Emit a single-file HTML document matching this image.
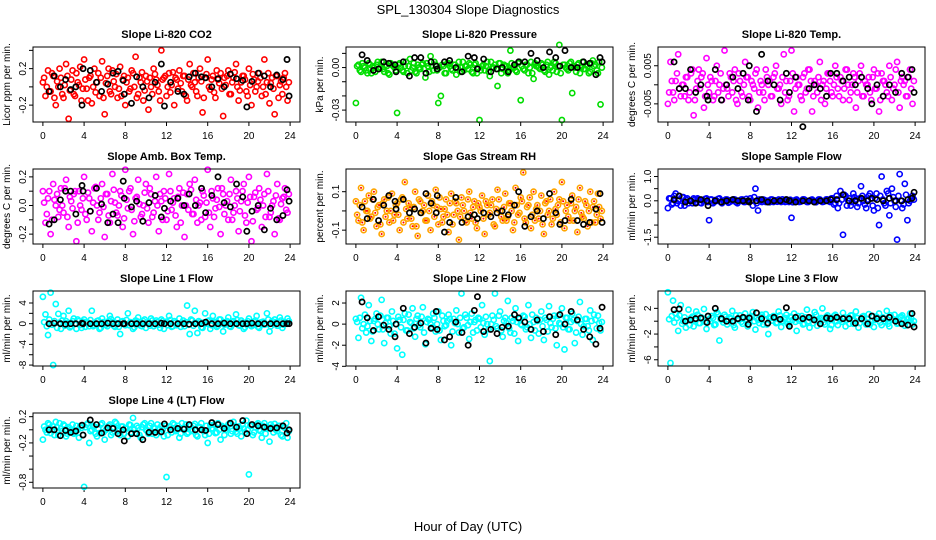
<!DOCTYPE html>
<html><head><meta charset="utf-8">
<style>
body{margin:0;background:#fff;}
svg{display:block;font-family:"Liberation Sans",Arial,sans-serif;}
</style></head>
<body>
<svg id="chart" width="936" height="540" viewBox="0 0 936 540">
<text x="468" y="14" text-anchor="middle" font-size="13">SPL_130304  Slope Diagnostics</text>
<text x="468" y="531" text-anchor="middle" font-size="13">Hour of Day (UTC)</text>
</svg>
<script>
const hours=[0.0,0.25,0.5,0.75,1.0,1.25,1.5,1.75,2.0,2.25,2.5,2.75,3.0,3.25,3.5,3.75,4.0,4.25,4.5,4.75,5.0,5.25,5.5,5.75,6.0,6.25,6.5,6.75,7.0,7.25,7.5,7.75,8.0,8.25,8.5,8.75,9.0,9.25,9.5,9.75,10.0,10.25,10.5,10.75,11.0,11.25,11.5,11.75,12.0,12.25,12.5,12.75,13.0,13.25,13.5,13.75,14.0,14.25,14.5,14.75,15.0,15.25,15.5,15.75,16.0,16.25,16.5,16.75,17.0,17.25,17.5,17.75,18.0,18.25,18.5,18.75,19.0,19.25,19.5,19.75,20.0,20.25,20.5,20.75,21.0,21.25,21.5,21.75,22.0,22.25,22.5,22.75,23.0,23.25,23.5,23.75];
const hours2=[0.12,0.38,0.62,0.88,1.12,1.38,1.62,1.88,2.12,2.38,2.62,2.88,3.12,3.38,3.62,3.88,4.12,4.38,4.62,4.88,5.12,5.38,5.62,5.88,6.12,6.38,6.62,6.88,7.12,7.38,7.62,7.88,8.12,8.38,8.62,8.88,9.12,9.38,9.62,9.88,10.12,10.38,10.62,10.88,11.12,11.38,11.62,11.88,12.12,12.38,12.62,12.88,13.12,13.38,13.62,13.88,14.12,14.38,14.62,14.88,15.12,15.38,15.62,15.88,16.12,16.38,16.62,16.88,17.12,17.38,17.62,17.88,18.12,18.38,18.62,18.88,19.12,19.38,19.62,19.88,20.12,20.38,20.62,20.88,21.12,21.38,21.62,21.88,22.12,22.38,22.62,22.88,23.12,23.38,23.62,23.88];
const blackHours=[0.6,1.1,1.7,2.2,2.7,3.2,3.8,3.9,4.6,5.2,5.7,6.3,6.8,7.3,7.8,7.9,8.6,9.1,9.7,10.3,10.9,11.5,11.8,12.4,13.1,13.7,14.2,14.8,15.4,15.8,16.4,17.0,17.6,18.2,18.8,19.4,19.8,20.3,20.9,21.5,22.1,22.7,23.3,23.7,23.9];
const xTicks=[0,4,8,12,16,20,24];

const co2=[0.05,-0.1,0.18,-0.05,0.12,-0.2,0.0,0.1,-0.12,0.25,-0.35,0.08,-0.08,0.15,0.02,-0.15,0.3,-0.02,0.1,-0.18,0.2,0.05,-0.1,0.28,-0.3,0.12,-0.05,0.18,0.0,-0.12,0.22,0.08,-0.2,0.1,-0.02,0.15,0.33,-0.08,0.05,-0.15,0.12,-0.25,0.0,0.2,0.08,-0.05,0.4,0.1,-0.1,0.15,0.02,-0.2,0.08,0.18,-0.05,0.12,-0.15,0.25,0.0,0.05,-0.1,0.2,-0.28,0.1,0.3,-0.03,0.12,-0.12,0.08,0.15,-0.32,0.02,0.18,-0.08,0.1,0.25,-0.15,0.05,0.12,-0.05,0.2,-0.2,0.08,0.0,0.15,-0.1,0.3,0.05,-0.18,0.1,-0.3,0.12,0.02,-0.08,0.15,-0.15];
const co2b=[0.1,0.0,-0.05,0.15,-0.12,0.06,0.2,-0.08,0.02,0.12,-0.04,0.18,-0.1,0.05,0.22,-0.02,0.08,-0.15,0.12,0.0,-0.06,0.15,0.1,-0.12,0.04,0.2,-0.08,0.06,0.14,-0.02,-0.1,0.12,0.05,-0.05,0.18,0.0,-0.12,0.1,0.16,-0.04,0.06,0.1,-0.08,0.14,0.02,-0.15,0.08,0.12,0.0,-0.06,0.16,0.1,-0.02,0.04,0.12,-0.1,0.08,0.02,0.15,-0.05,0.1,0.06,-0.12,0.14,0.0,0.08,-0.06,0.18,0.04,-0.02,0.1,0.12,-0.08,0.05,0.16,0.0,-0.04,0.12,0.08,-0.1,0.02,0.14,-0.05,0.06,0.1,0.0,-0.08,0.15,0.04,-0.02,0.12,-0.12,0.06,0.1,0.0,0.05];
const co2Black=[-0.05,0.12,0.0,0.08,-0.03,0.0,-0.2,0.2,0.18,0.05,-0.05,0.03,0.15,0.17,0.07,-0.08,-0.18,0.11,0.0,-0.12,0.05,0.25,-0.21,0.05,-0.05,-0.08,0.11,0.15,0.11,0.1,0.0,0.09,0.0,0.14,0.09,0.07,-0.22,0.06,0.15,0.12,0.0,0.13,0.08,0.3,-0.1];
const pres=[-0.025,0.002,-0.003,0.001,-0.002,0.003,-0.004,0.0,0.002,-0.001,0.004,-0.003,0.001,-0.005,0.002,0.0,-0.032,0.003,-0.002,0.001,-0.004,0.006,0.0,-0.003,0.002,-0.001,0.003,-0.007,0.001,0.008,-0.002,0.002,-0.025,-0.02,0.001,-0.004,0.003,-0.001,0.002,-0.005,0.004,0.0,-0.002,0.001,0.003,-0.003,0.002,-0.004,-0.037,0.001,-0.002,0.004,-0.006,0.0,0.002,-0.013,0.003,-0.001,0.001,-0.004,0.012,0.0,-0.002,0.003,-0.023,-0.001,0.002,-0.004,0.004,-0.008,0.001,0.0,0.003,-0.002,0.002,-0.005,0.001,0.004,-0.003,0.016,-0.037,0.002,-0.001,0.003,-0.018,0.0,0.002,-0.004,0.004,-0.001,0.001,-0.003,0.005,0.002,-0.004,-0.026];
const presb=[0.001,-0.002,0.003,0.0,-0.004,0.002,0.001,-0.003,0.004,0.0,-0.001,0.002,-0.004,0.003,0.001,-0.002,0.002,0.0,-0.003,0.004,0.001,-0.002,0.003,-0.004,0.0,0.002,-0.001,0.003,-0.003,0.001,0.004,-0.002,0.0,0.002,-0.004,0.003,0.001,-0.002,0.002,0.0,-0.003,0.004,0.001,-0.001,0.002,-0.004,0.003,0.0,-0.002,0.002,0.001,-0.003,0.004,0.0,-0.001,0.003,-0.004,0.002,0.001,-0.002,0.003,0.0,-0.003,0.004,0.001,-0.002,0.002,0.0,-0.004,0.003,0.001,-0.001,0.002,-0.003,0.004,0.0,-0.002,0.003,0.001,-0.004,0.002,0.0,-0.002,0.004,0.001,-0.003,0.003,0.0,-0.001,0.002,-0.004,0.003,0.001,-0.002,0.004,0.0];
const presBlack=[0.009,0.005,-0.002,-0.001,0.004,0.003,0.002,-0.003,0.004,-0.006,0.007,0.007,-0.004,0.004,0.001,-0.001,0.004,0.005,0.0,-0.003,0.008,0.007,-0.001,0.006,-0.003,-0.001,0.0,-0.003,0.002,0.004,0.004,0.01,0.005,0.0,0.011,0.007,0.001,0.012,0.0,0.0,0.004,0.003,-0.005,0.007,0.004];
const temp=[-0.005,0.006,-0.002,0.001,0.008,-0.003,0.0,0.002,-0.004,0.003,-0.008,-0.001,0.004,0.002,-0.006,0.007,-0.002,0.001,-0.003,0.005,0.0,-0.004,0.009,-0.001,0.003,-0.002,0.004,-0.005,0.001,-0.003,0.006,0.002,-0.004,0.0,0.003,-0.006,0.001,-0.002,0.004,0.0,-0.003,0.002,0.005,-0.001,-0.005,0.008,0.001,-0.003,0.009,-0.007,0.002,0.0,-0.004,0.003,-0.001,0.004,-0.007,0.001,-0.002,0.006,0.0,-0.005,0.003,0.001,-0.003,0.005,-0.001,0.002,-0.004,0.004,0.0,-0.002,0.003,-0.006,0.001,0.005,-0.003,0.0,0.002,-0.004,0.004,-0.001,-0.007,0.003,0.001,-0.002,0.005,-0.004,0.0,0.006,-0.006,0.002,0.001,-0.003,0.004,-0.005];
const tempb=[-0.002,0.001,-0.004,0.003,-0.001,0.0,-0.003,0.002,-0.002,0.004,-0.004,0.001,-0.001,0.003,-0.003,0.0,0.002,-0.004,0.001,-0.002,0.003,-0.001,0.0,-0.003,0.002,0.001,-0.004,0.003,-0.002,0.0,0.002,-0.003,0.001,-0.001,0.004,-0.002,0.0,-0.004,0.002,0.001,-0.003,0.003,-0.001,0.0,0.002,-0.002,-0.004,0.001,0.003,-0.001,0.0,-0.003,0.002,-0.002,0.004,0.001,-0.003,0.0,0.002,-0.004,0.001,-0.001,0.003,-0.002,0.0,0.002,-0.003,0.001,-0.001,0.004,-0.004,0.0,0.002,-0.002,0.003,-0.003,0.001,0.0,-0.002,0.002,-0.001,0.003,-0.004,0.001,0.0,-0.003,0.002,-0.001,0.004,-0.002,0.001,0.0,-0.003,0.002,-0.001,0.001];
const tempBlack=[0.006,-0.001,-0.001,0.004,-0.002,0.0,-0.003,-0.004,0.004,-0.004,0.0,0.002,-0.001,0.003,-0.004,0.005,-0.007,0.008,0.001,0.0,-0.004,0.003,-0.002,0.002,-0.011,-0.001,0.0,-0.001,-0.003,0.003,0.003,0.001,0.002,0.0,0.002,-0.001,-0.005,0.0,-0.003,0.0,-0.002,0.003,0.002,0.004,-0.002];
const amb=[0.1,-0.12,0.05,-0.2,0.15,0.0,-0.08,0.12,-0.05,0.18,-0.15,0.03,0.08,-0.25,0.1,-0.03,0.2,-0.1,0.05,-0.18,0.12,0.0,-0.05,0.15,-0.22,0.08,-0.12,0.22,0.02,-0.07,0.1,-0.15,0.25,-0.02,0.12,-0.2,0.05,0.18,-0.08,0.0,0.15,-0.12,0.08,-0.05,0.2,-0.18,0.03,0.1,-0.1,0.22,-0.03,0.05,-0.15,0.12,0.0,-0.22,0.08,0.15,-0.06,0.18,-0.12,0.02,0.1,-0.08,0.25,-0.15,0.05,-0.02,0.12,-0.2,0.08,0.0,-0.1,0.18,-0.05,0.1,-0.18,0.03,0.15,-0.12,0.2,-0.25,0.06,-0.03,0.12,-0.15,0.08,0.22,-0.08,0.0,-0.2,0.15,-0.1,0.05,0.12,-0.05];
const ambb=[0.02,-0.06,0.1,-0.1,0.04,0.08,-0.03,0.0,0.12,-0.08,0.06,-0.02,0.1,-0.12,0.0,0.05,-0.06,0.09,-0.04,0.02,0.13,-0.1,0.05,-0.01,0.08,-0.07,0.03,0.11,-0.05,0.0,0.07,-0.09,0.04,0.1,-0.03,-0.11,0.06,0.01,-0.06,0.09,-0.02,0.12,-0.08,0.03,0.0,0.08,-0.1,0.05,-0.04,0.1,0.02,-0.07,0.06,-0.12,0.09,0.0,-0.03,0.11,-0.06,0.04,0.0,-0.1,0.07,0.02,-0.05,0.1,-0.08,0.04,-0.01,0.12,-0.06,0.03,0.08,-0.1,0.0,0.05,-0.04,0.1,-0.07,0.02,0.06,-0.11,0.09,-0.02,0.04,0.0,-0.08,0.1,-0.05,0.03,0.07,-0.09,0.01,0.06,-0.03,0.08];
const ambBlack=[-0.13,-0.1,0.04,0.1,0.1,-0.06,0.14,0.1,-0.04,0.12,0.01,-0.12,-0.06,-0.12,0.17,0.05,-0.01,0.03,-0.11,0.02,0.07,-0.08,-0.02,0.03,0.05,0.0,0.08,0.0,0.12,-0.05,0.07,0.2,0.02,-0.01,0.15,0.06,-0.18,-0.04,0.0,-0.17,-0.02,-0.1,-0.07,0.11,0.03];
const rh=[0.05,-0.05,0.12,-0.1,0.0,0.08,-0.03,0.1,-0.08,0.03,-0.12,0.06,0.0,-0.06,0.09,-0.02,0.04,-0.1,0.07,0.15,-0.04,0.02,-0.08,0.1,-0.13,0.05,0.0,-0.05,0.08,-0.1,0.03,0.11,-0.07,0.01,-0.03,0.06,-0.11,0.09,-0.02,0.04,-0.15,0.07,0.0,-0.06,0.1,-0.04,0.05,-0.09,0.02,0.08,-0.12,0.03,-0.01,0.06,-0.08,0.11,0.0,-0.05,0.09,-0.03,0.04,-0.1,0.12,-0.02,0.07,0.2,-0.06,0.03,-0.09,0.1,0.01,-0.04,0.08,-0.12,0.05,0.0,-0.07,0.1,-0.02,0.06,0.15,-0.09,0.03,-0.05,0.08,0.0,-0.11,0.12,-0.03,0.05,-0.08,0.1,0.02,-0.06,0.09,-0.04];
const rhb=[-0.02,0.03,-0.06,0.05,0.0,-0.04,0.06,-0.01,0.02,-0.07,0.04,-0.03,0.07,0.0,-0.05,0.03,-0.02,0.06,-0.06,0.01,0.04,-0.04,0.02,-0.08,0.06,-0.01,0.03,-0.05,0.0,0.05,-0.03,0.02,0.07,-0.06,0.01,-0.02,0.04,-0.07,0.05,0.0,-0.03,0.03,-0.05,0.06,-0.01,0.02,-0.06,0.04,0.0,-0.04,0.05,-0.02,0.03,-0.07,0.01,0.06,-0.03,0.02,-0.05,0.04,0.0,-0.06,0.03,-0.01,0.05,-0.04,0.02,0.07,-0.02,-0.05,0.03,0.0,-0.07,0.04,-0.02,0.06,-0.04,0.01,0.03,-0.06,0.05,0.0,-0.03,0.04,-0.05,0.02,0.06,-0.01,-0.04,0.03,0.0,-0.06,0.05,-0.02,0.02,0.0];
const rhBlack=[0.02,-0.04,0.06,-0.05,0.03,0.08,0.05,0.01,0.06,-0.01,0.01,-0.01,0.09,0.04,-0.01,0.08,-0.11,-0.06,0.07,-0.06,-0.03,-0.02,-0.04,-0.01,-0.03,-0.01,0.0,-0.02,0.03,0.1,-0.08,-0.03,0.0,-0.04,0.09,-0.01,-0.07,-0.05,0.06,-0.05,-0.07,-0.06,0.01,0.09,-0.06];
const sflow=[-0.3,0.1,-0.1,0.3,0.0,-0.2,0.15,0.05,-0.1,0.0,0.1,-0.05,0.05,-0.1,0.0,0.1,-0.8,0.05,-0.05,0.0,0.1,-0.1,0.0,0.05,-0.05,0.0,0.05,-0.1,0.0,0.05,-0.05,0.0,0.1,-0.2,0.5,-0.4,0.0,0.05,-0.05,0.0,0.05,-0.05,0.0,0.05,-0.05,0.0,0.05,-0.05,-0.7,0.0,0.05,-0.05,0.0,0.05,-0.05,0.0,0.05,-0.05,0.0,0.05,-0.05,0.0,0.05,-0.05,0.1,-0.1,-0.3,0.4,-1.4,0.2,0.0,-0.2,0.3,0.05,-0.1,0.6,0.0,-0.3,0.2,0.1,-0.4,0.3,-1.0,1.0,-0.1,0.4,-0.6,0.5,0.0,-1.6,1.1,-0.3,0.7,-0.8,0.0,0.2];
const sflowb=[0.1,-0.15,0.2,-0.1,0.05,0.15,-0.2,0.1,0.0,-0.1,0.05,0.1,-0.08,0.0,0.08,-0.05,0.05,-0.1,0.03,0.08,-0.05,0.0,0.05,-0.08,0.02,0.06,-0.06,0.0,0.05,-0.05,0.08,-0.03,0.0,0.15,-0.1,0.05,-0.05,0.03,0.0,-0.06,0.05,0.02,-0.04,0.0,0.06,-0.05,0.0,0.04,-0.06,0.03,0.0,-0.04,0.06,0.0,-0.05,0.03,0.0,-0.06,0.05,0.0,-0.04,0.06,-0.02,0.1,-0.15,0.2,-0.1,0.05,0.25,-0.2,0.1,-0.05,0.15,-0.25,0.1,0.2,-0.15,0.05,0.3,-0.2,0.1,-0.3,0.2,0.05,-0.2,0.3,-0.1,0.15,-0.25,0.2,0.0,-0.15,0.25,-0.1,0.1,0.05];
const sflowBlack=[0.05,0.2,-0.05,0.0,-0.1,0.05,0.0,-0.2,0.0,-0.05,0.0,0.05,0.0,0.0,0.0,-0.05,0.0,0.05,-0.05,0.0,0.0,0.05,0.0,-0.05,0.0,0.0,-0.05,0.0,0.0,0.05,0.05,0.25,0.0,0.0,0.1,0.0,0.1,0.05,0.0,0.1,0.0,0.0,0.05,0.1,0.35];
const line1=[5.2,1.8,-2.2,6,-8,3.8,1.9,-1,1.5,0.5,2.5,-0.5,1,-1,0.5,-0.8,0.8,0.3,-0.5,2.5,-0.3,0.5,-1,1,0.2,-0.5,1.5,0.3,-0.6,0.8,-2,0.5,-0.3,2,0.3,-1,0.6,1.2,-0.4,0.5,-0.8,0.3,1,-0.5,0.6,-0.2,0.8,-1,0.4,1.5,-0.6,0.5,-0.3,1,0.2,-0.5,3.5,-2,0.6,2.5,-1.8,0.3,-0.8,2,0.5,-1,1.5,0.2,-0.4,0.8,-1.5,0.3,1.2,-0.6,0.5,1.8,-0.3,0.6,-1,0.2,1,-0.5,0.4,1.5,-0.8,0.3,-0.2,2,-1.5,0.5,0.8,-0.4,1.2,-0.8,0.3,1];
const line1b=[0.3,-0.5,0.8,-0.2,0.5,-0.8,0.2,0.6,-0.4,0.1,-0.7,0.5,0.0,0.8,-0.3,0.4,-0.6,0.2,0.7,-0.5,0.0,0.6,-0.8,0.3,-0.2,0.5,0.9,-0.4,0.1,-0.6,0.4,0.0,0.7,-0.3,0.2,-0.7,0.5,0.0,-0.5,0.8,0.2,-0.4,0.6,-0.1,0.3,-0.8,0.5,0.1,-0.3,0.7,-0.5,0.2,0.0,-0.6,0.6,0.3,-0.2,0.8,-0.4,0.1,0.5,-0.7,0.2,0.0,0.6,-0.3,0.4,-0.6,0.8,0.1,-0.2,0.5,-0.5,0.3,0.0,0.7,-0.4,0.2,-0.7,0.5,0.1,-0.3,0.6,-0.6,0.2,0.4,-0.1,0.8,-0.5,0.0,0.3,-0.4,0.6,-0.2,0.1,0.5];
const line1Black=[0,0.1,0,-0.1,0,0,0.1,0,0,0,0,0.1,0,0,0,0,0,0,0,0,0,0.1,0,0,0,0,-0.1,0,0,0.3,0,0,0.1,0,0,0,0,0.1,0,0,0,0,0,0,0];
const line2=[0.5,-1.3,2.5,0.0,-0.8,1.8,-1.6,0.3,1.0,-0.5,2.3,-1.8,0.6,-0.2,1.2,-0.9,-2.3,0.4,-2.9,1.0,-0.6,0.2,1.5,-1.2,0.8,-0.3,1.6,-1.9,0.5,0.0,1.0,-0.7,1.2,-1.5,0.3,-0.1,0.9,-2.0,0.5,1.3,-0.8,2.9,-0.3,0.6,-1.4,1.0,0.2,-0.6,0.5,1.8,-1.0,0.0,-3.5,0.8,2.9,-0.4,1.2,-1.2,0.6,2.2,-0.8,0.3,1.5,-1.6,0.0,0.8,-0.5,1.8,-1.3,0.2,0.6,-0.9,1.2,-1.5,0.4,1.7,-0.3,0.8,-2.0,0.1,1.5,-2.4,0.6,-0.5,1.0,-1.8,0.3,2.1,-1.0,0.5,-0.2,1.3,-1.5,0.4,0.8,-0.6];
const line2b=[0.2,0.6,-0.4,0.9,-0.2,0.3,-0.7,0.5,0.0,0.8,-0.5,0.1,0.6,-0.9,0.3,0.0,0.7,-0.3,0.4,-0.6,0.9,0.1,-0.4,0.5,-0.1,0.7,-0.8,0.2,0.4,-0.3,0.6,0.0,-0.6,0.8,-0.2,0.3,0.5,-0.7,0.1,0.0,0.6,-0.4,0.9,-0.1,0.2,-0.8,0.4,0.6,-0.3,0.1,0.7,-0.5,0.0,0.4,-0.2,0.8,-0.6,0.3,0.1,-0.4,0.6,-0.9,0.2,0.5,-0.1,0.7,-0.3,0.0,0.9,-0.6,0.3,0.4,-0.2,0.6,-0.7,0.1,0.5,-0.4,0.8,0.0,-0.3,0.6,-0.5,0.2,0.4,-0.8,0.7,0.0,-0.2,0.5,-0.6,0.3,0.9,-0.4,0.1,0.2];
const line2Black=[2.1,0.6,-0.6,0.7,-0.1,-0.5,-1.2,0.0,1.5,-0.9,-0.3,0.1,-1.8,-0.4,1.2,-0.5,-1.5,-1.2,0.2,-0.8,-2.0,1.3,2.6,-0.7,-0.5,-0.9,-0.3,-0.2,0.9,0.6,0.2,-0.5,0.4,-0.7,0.7,-1.0,0.9,0.0,1.2,0.4,-0.5,-1.2,-1.9,-0.4,1.6];
const line3=[4.5,-6.5,3.2,1.2,-1.5,2.5,0.0,-1.0,1.8,0.5,-0.8,1.5,-0.3,0.6,1.9,-1.2,0.3,0.8,-0.6,1.4,-3.0,0.2,1.0,-0.5,0.6,1.6,-1.0,0.3,0.9,-0.4,1.2,-0.8,0.4,1.4,-1.3,0.2,0.7,-0.5,1.1,-2.0,0.5,0.8,-0.3,1.5,-0.9,0.3,1.0,-0.6,0.6,1.2,-1.5,0.1,0.8,-0.4,1.8,-1.0,0.5,1.4,-0.7,0.3,2.0,-0.5,0.9,-1.2,0.4,1.0,-0.6,0.2,1.3,-0.8,0.6,0.9,-0.4,1.5,-1.0,0.3,0.8,-0.5,1.1,0.0,-0.9,0.7,1.2,-0.6,0.4,1.6,-0.8,0.2,1.0,-0.4,0.6,0.9,-0.7,0.3,1.2,-0.5];
const line3b=[0.3,0.8,-0.2,0.5,0.9,-0.4,0.6,0.1,-0.6,0.7,0.2,1.0,-0.3,0.4,-0.1,0.8,0.0,0.5,-0.5,1.1,0.3,-0.2,0.7,0.0,0.4,-0.6,0.9,0.2,-0.1,0.6,0.3,-0.4,0.8,0.0,0.5,-0.3,1.0,0.2,-0.5,0.6,0.1,0.4,-0.2,0.9,0.0,0.5,-0.4,0.7,0.2,-0.1,0.8,0.3,-0.5,0.6,0.0,0.4,-0.3,1.0,0.1,0.5,-0.2,0.7,0.3,-0.6,0.8,0.0,0.4,-0.1,0.6,0.2,-0.4,0.9,0.1,0.5,-0.3,0.7,0.0,0.3,-0.5,0.8,0.2,0.5,-0.2,0.6,0.0,-0.4,0.9,0.3,0.1,-0.3,0.7,0.2,-0.1,0.5,0.4,0.0];
const line3Black=[1.8,1.9,0.0,0.2,0.4,0.5,-0.2,0.8,2.0,0.4,0.0,0.0,0.4,0.6,-0.5,0.5,1.3,0.4,-0.3,0.6,0.3,2.1,-0.8,0.6,0.4,0.6,0.2,-0.4,0.5,0.4,0.6,0.4,0.4,-0.3,0.4,-0.4,0.8,0.4,0.4,0.6,0.0,-0.4,-0.6,1.2,-0.9];
const line4=[-0.15,0.0,0.1,-0.05,0.05,0.12,-0.08,0.02,0.08,-0.1,0.04,0.0,-0.06,0.06,-0.12,0.03,-0.87,0.08,-0.2,0.0,0.05,-0.1,-0.05,0.1,-0.15,0.02,0.08,-0.04,0.12,0.0,-0.08,0.05,0.02,-0.1,0.07,0.18,-0.05,0.03,-0.12,0.08,0.0,-0.06,0.1,0.04,-0.08,0.02,0.06,-0.1,-0.72,0.05,-0.04,0.08,0.0,-0.12,0.1,0.03,-0.06,0.06,-0.02,0.09,-0.1,0.04,0.0,-0.08,-0.2,0.07,0.02,-0.05,0.1,-0.15,0.04,0.0,0.08,-0.06,0.12,-0.03,0.05,-0.1,0.02,0.14,-0.68,0.06,-0.04,0.08,0.0,-0.12,0.1,0.03,-0.18,0.05,0.09,-0.02,0.06,-0.1,0.03,-0.12];
const line4b=[0.05,-0.04,0.08,0.0,-0.08,0.04,0.1,-0.02,0.06,-0.06,0.02,0.08,-0.04,0.0,0.06,-0.08,0.04,0.1,-0.02,0.06,-0.06,0.02,0.08,-0.04,0.0,0.06,-0.08,0.04,0.1,-0.02,0.05,-0.06,0.02,0.08,-0.04,0.0,0.06,-0.08,0.04,0.1,-0.02,0.06,-0.06,0.02,0.08,-0.04,0.0,0.06,-0.08,0.04,0.1,-0.02,0.06,-0.06,0.02,0.08,-0.04,0.0,0.06,-0.08,0.04,0.1,-0.02,0.06,-0.06,0.02,0.08,-0.04,0.0,0.06,-0.08,0.04,0.1,-0.02,0.06,-0.06,0.02,0.08,-0.04,0.0,0.06,-0.08,0.04,0.1,-0.02,0.06,-0.06,0.02,0.08,-0.04,0.0,0.06,-0.08,0.04,0.1,-0.02];
const line4Black=[0.0,0.0,-0.09,-0.01,-0.04,-0.02,0.07,-0.08,0.15,0.08,-0.05,0.03,0.02,-0.06,0.0,-0.17,-0.06,-0.06,-0.15,-0.04,-0.04,-0.03,0.09,0.0,0.02,0.01,0.08,0.0,0.0,-0.01,0.11,0.08,0.02,0.1,0.04,0.14,-0.06,0.08,0.06,0.04,0.02,0.03,0.06,-0.05,0.0];

const titles=["Slope Li-820 CO2","Slope Li-820 Pressure","Slope Li-820 Temp.","Slope Amb. Box Temp.","Slope Gas Stream RH","Slope Sample Flow","Slope Line 1 Flow","Slope Line 2 Flow","Slope Line 3 Flow","Slope Line 4 (LT) Flow"];
const ylabs=["Licor ppm per min.","kPa per min.","degrees C per min.","degrees C per min.","percent per min.","ml/min per min.","ml/min per min.","ml/min per min.","ml/min per min.","ml/min per min."];
const yTicks=[[-0.2,0,0.2,0.4],[0.01,0,-0.01,-0.02,-0.03],[0.005,0,-0.005],[0.2,0.1,0,-0.1,-0.2],[0.1,0,-0.1],[1.0,0.5,0,-0.5,-1.0,-1.5],[4,2,0,-2,-4,-6,-8],[2,0,-2,-4],[2,0,-2,-4,-6],[0.2,0,-0.2,-0.4,-0.6,-0.8]];
const yTickLabels=[["-0.2","","0.2",""],["","0.00","","","-0.03"],["0.005","","-0.005"],["0.2","","0.0","","-0.2"],["0.1","","-0.1"],["1.0","","0.0","","","-1.5"],["4","","0","","-4","","-8"],["2","0","-2","-4"],["2","","-2","","-6"],["0.2","","-0.2","","","-0.8"]];
const series=[co2,pres,temp,amb,rh,sflow,line1,line2,line3,line4];
const series2=[co2b,presb,tempb,ambb,rhb,sflowb,line1b,line2b,line3b,line4b];
const blackSeries=[co2Black,presBlack,tempBlack,ambBlack,rhBlack,sflowBlack,line1Black,line2Black,line3Black,line4Black];
const colors=["#ff0000","#00dd00","#ff00ff","#ff00ff","#ffa500","#0000ff","#00ffff","#00ffff","#00ffff","#00ffff"];
const ylims=[[-0.385,0.437],[-0.0384,0.0145],[-0.00976,0.00992],[-0.269,0.255],[-0.172,0.218],[-1.78,1.31],[-8.18,6.32],[-3.97,3.14],[-6.97,4.7],[-0.887,0.256]];

const NS="http://www.w3.org/2000/svg";
const svg=document.getElementById('chart');
function mk(tag,attrs,parent){const e=document.createElementNS(NS,tag);for(const k in attrs)e.setAttribute(k,attrs[k]);(parent||svg).appendChild(e);return e;}
const lefts=[33,346,658], tops=[47,169,291,413], W=267, H=75;

series.forEach((ys,i)=>{
  const L=lefts[i%3], T=tops[Math.floor(i/3)];
  const g=mk('g',{});
  
  
  const [y0,y1]=ylims[i];
  const xs=h=>L+(h+0.96)/25.92*W;
  const ysc=v=>T+H-(v-y0)/(y1-y0)*H;
  const t=mk('text',{x:L+W/2,y:T-9,'text-anchor':'middle','font-size':'11','font-weight':'bold'},g);
  t.textContent=titles[i];
  
  
  const yl=mk('text',{x:0,y:0,'text-anchor':'middle','font-size':'10',transform:`translate(${L-23},${T+H/2}) rotate(-90)`},g);
  yl.textContent=ylabs[i];
  
  
  xTicks.forEach(h=>{
    mk('line',{x1:xs(h),x2:xs(h),y1:T+H,y2:T+H+4,stroke:'#000','stroke-width':1},g);
    const tx=mk('text',{x:xs(h),y:T+H+17,'text-anchor':'middle','font-size':'10'},g);
    tx.textContent=h;
    
    
  });
  yTicks[i].forEach((v,k)=>{
    const y=ysc(v);
    mk('line',{x1:L-4,x2:L,y1:y,y2:y,stroke:'#000','stroke-width':1},g);
    const lab=yTickLabels[i][k];
    if(lab){
      const ty=mk('text',{x:0,y:0,'text-anchor':'middle','font-size':'10',transform:`translate(${L-7},${y}) rotate(-90)`},g);
      ty.textContent=lab;
      
      
    }
  });
  const drawColored=(arr,hs)=>arr.forEach((v,k)=>{
    if(k>=hs.length)return;
    const c=mk('circle',{cx:xs(hs[k]),cy:ysc(v),r:2.6,fill:'none',stroke:colors[i],'stroke-width':1.6},g);
    
    
    if(i===4){mk('circle',{cx:xs(hs[k]),cy:ysc(v),r:1,fill:'#ff0000'},g);}
  });
  drawColored(series2[i],hours2);
  drawColored(ys,hours);
  blackSeries[i].forEach((v,k)=>{
    if(k>=blackHours.length)return;
    const c=mk('circle',{cx:xs(blackHours[k]),cy:ysc(v),r:2.6,fill:'none',stroke:'#000','stroke-width':1.7},g);
    
    
  });
  const box=mk('rect',{x:L,y:T,width:W,height:H,fill:'none',stroke:'#000','stroke-width':1},g);
  
  
});
</script>
</body></html>
